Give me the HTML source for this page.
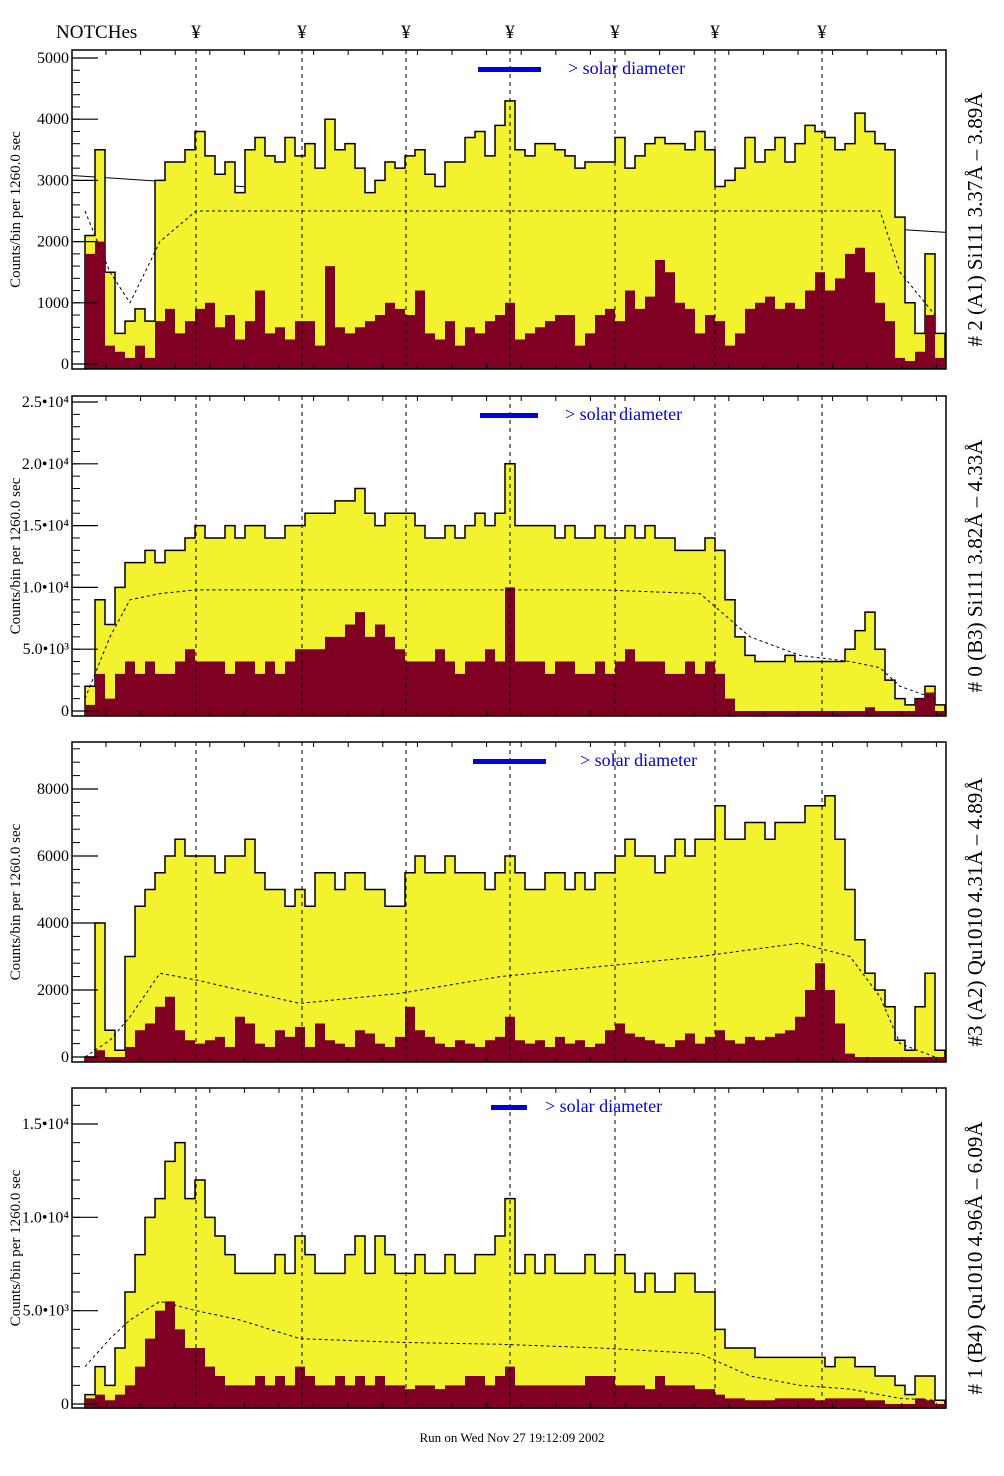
<!DOCTYPE html>
<html><head><meta charset="utf-8"><style>
body{margin:0;background:#fff;}
svg{display:block;font-family:"Liberation Serif",serif;}
</style></head><body>
<svg id="chart" width="1004" height="1476" xmlns="http://www.w3.org/2000/svg"></svg>
<script>
const binStarts=[85,95,105,115,125,135,145,155,165,175,185,195,205,215,225,235,245,255,265,275,285,295,305,315,325,335,345,355,365,375,385,395,405,415,425,435,445,455,465,475,485,495,505,515,525,535,545,555,565,575,585,595,605,615,625,635,645,655,665,675,685,695,705,715,725,735,745,755,765,775,785,795,805,815,825,835,845,855,865,875,885,895,905,915,925,935];
const p1Yellow=[2100,3500,1500,500,700,900,700,3000,3300,3300,3500,3800,3400,3100,3300,2800,3500,3700,3400,3300,3700,3400,3600,3200,4000,3500,3600,3200,2800,3000,3300,3200,3400,3500,3100,2900,3300,3300,3700,3800,3400,3900,4300,3500,3400,3600,3600,3500,3400,3200,3300,3300,3300,3700,3200,3400,3600,3700,3600,3600,3500,3800,3500,2900,3000,3200,3700,3300,3500,3700,3300,3600,3900,3800,3700,3500,3600,4100,3800,3600,3500,2400,1000,500,1800,500];
const p1Dark=[1800,2000,300,200,100,300,100,700,900,500,700,900,1000,600,800,400,700,1200,500,600,400,700,700,300,1600,600,500,600,700,800,1000,900,800,1200,500,400,700,300,600,500,700,800,1000,400,500,600,700,800,800,300,500,800,900,700,1200,900,1100,1700,1500,1000,900,500,800,700,300,500,900,1000,1100,900,1000,900,1200,1500,1200,1400,1800,1900,1500,1000,700,100,50,200,800,100];
const p2Yellow=[2,9,7,10,12,12,13,12,13,13,14,15,14,14,15,14,15,15,14,14,15,15,16,16,16,17,17,18,16,15,16,16,16,15,14,14,15,14,15,16,15,16,20,15,15,15,15,14,15,14,14,15,14,14,15,14,15,14,14,13,13,13,14,13,9,6,4.5,4,4,4,4.5,4,4,4,4,4,5,6.5,8,5,2.5,1,0.5,1,2,0.5];
const p2Dark=[0.5,3,1,3,4,3,4,3,3,4,5,4,4,4,3,4,4,3,4,3,4,5,5,5,6,6,7,8,6,7,6,5,4,4,4,5,4,3,4,4,5,4,10,4,4,4,3,4,4,3,3,4,3,4,5,4,4,4,3,3,4,3,4,3,1,0,0,0,0,0,0,0,0,0,0,0,0,0,0.3,0,0,0,0,1,1.5,0];
const p3Yellow=[0,4000,800,200,3000,4500,5000,5500,6000,6500,6000,6000,6000,5500,6000,6000,6500,5500,5000,5000,4500,5000,4500,5500,5500,5000,5500,5500,5000,5000,4500,4500,5500,6000,5500,5500,6000,5500,5500,5500,5000,5500,6000,5500,5000,5000,5500,5500,5000,5500,5000,5500,5500,6000,6500,6000,6000,5500,6000,6500,6000,6500,6500,7500,6500,6500,7000,7000,6500,7000,7000,7000,7500,7500,7800,6500,5000,3500,2500,2000,1500,500,200,1500,2500,200];
const p3Dark=[0,200,0,0,300,800,1000,1500,1800,800,500,400,500,600,300,1200,1000,400,300,800,600,900,300,1000,500,400,300,800,700,400,300,600,1500,800,600,400,300,500,400,300,500,600,1200,500,400,500,300,600,400,500,300,400,800,1000,700,600,500,400,300,500,700,400,600,800,500,400,600,500,600,700,800,1200,2000,2800,2000,1000,100,0,0,0,0,0,0,0,0,0];
const p4Yellow=[0.5,2,1,3,6,8,10,11,13,14,11,12,10,9,8,7,7,7,7,8,7,9,8,7,7,7,8,9,7,9,8,7,7,8,7,7,8,7,7,8,8,9,11,7,8,7,8,7,7,7,8,7,7,8,7,6,7,6,6,7,7,6,6,4,3,3,3,2.5,2.5,2.5,2.5,2.5,2.5,2.5,2,2.5,2.5,2,2,1.5,1.5,1,0.5,1.5,1.5,0.2];
const p4Dark=[0.3,0.5,0.2,0.5,1,2,3.5,5,5.5,4,3,3,2,1.5,1,1,1,1.5,1,1.5,1,2,1.5,1,1,1.5,1,1.5,1,1.5,1,1,0.8,1,1,0.8,1,1,1.5,1.5,1,1.5,2,1,1,1,1,1,1,1,1.5,1.5,1.5,1,1,1,0.8,1.5,1,1,1,0.8,0.8,0.5,0.3,0.3,0.2,0.2,0.2,0.3,0.3,0.3,0.3,0.2,0.3,0.3,0.3,0.3,0.2,0.2,0,0,0,0.3,0.2,0];
const curveX=[85,110,130,160,196,240,300,400,500,600,700,750,800,850,880,900,935];
const p1Curve=[2500,1500,1000,2000,2500,2500,2500,2500,2500,2500,2500,2500,2500,2500,2500,1500,800];
const p2Curve=[1,6,9,9.5,9.8,9.8,9.8,9.8,9.8,9.8,9.5,6,4.5,4,3.5,2,1];
const p3Curve=[0,500,1200,2500,2300,2000,1600,1900,2400,2700,3000,3200,3400,3000,1800,400,0];
const p4Curve=[2,3.5,4.5,5.5,5,4.5,3.5,3.3,3.2,3,2.7,1.5,1,0.8,0.5,0.3,0.2];
const p1FitX=[72,946];
const p1Fit=[3080,2150];
const notchX=[196,302,406,510,615,715,822];

const NS="http://www.w3.org/2000/svg";
const svg=document.getElementById('chart');
function mk(tag,attrs,parent){const e=document.createElementNS(NS,tag);for(const k in attrs)e.setAttribute(k,attrs[k]);(parent||svg).appendChild(e);return e;}
const L=72,R=946,BW=10;
const panels=[
 {top:50,bot:369,zero:364,refV:5000,refY:58,y:p1Yellow,d:p1Dark,c:p1Curve,ticks:[0,1000,2000,3000,4000,5000],labs:['0','1000','2000','3000','4000','5000'],title:'# 2 (A1) Si111  3.37Å – 3.89Å',bar:[478,541],bx:568,minor:200,fit:true},
 {top:396,bot:716,zero:711,refV:25,refY:402,y:p2Yellow,d:p2Dark,c:p2Curve,ticks:[0,5,10,15,20,25],labs:['0','5.0•10³','1.0•10⁴','1.5•10⁴','2.0•10⁴','2.5•10⁴'],title:'# 0 (B3) Si111  3.82Å – 4.33Å',bar:[480,538],bx:565,minor:1},
 {top:742,bot:1062,zero:1057,refV:8000,refY:789,y:p3Yellow,d:p3Dark,c:p3Curve,ticks:[0,2000,4000,6000,8000],labs:['0','2000','4000','6000','8000'],title:'#3 (A2) Qu1010  4.31Å – 4.89Å',bar:[473,546],bx:580,minor:400},
 {top:1088,bot:1408,zero:1404,refV:15,refY:1124,y:p4Yellow,d:p4Dark,c:p4Curve,ticks:[0,5,10,15],labs:['0','5.0•10³','1.0•10⁴','1.5•10⁴'],title:'# 1 (B4) Qu1010 4.96Å – 6.09Å',bar:[491,527],bx:545,minor:1}
];
panels.forEach((p,pi)=>{
 const g=mk('g',{});
 
 
 const ys=v=>Math.max(p.top,p.zero-(p.zero-p.refY)*v/p.refV);
 function stepPath(arr){let s='M'+binStarts[0]+','+(p.zero+4);arr.forEach((v,i)=>{const x=binStarts[i];s+=' L'+x+','+ys(v)+' L'+(x+BW)+','+ys(v);});s+=' L'+(binStarts[binStarts.length-1]+BW)+','+(p.zero+4)+' Z';return s;}
 if(p.fit){
  const fl=mk('line',{x1:p1FitX[0],y1:ys(p1Fit[0]),x2:p1FitX[1],y2:ys(p1Fit[1]),stroke:'#000','stroke-width':1},g);
  
  
 }
 const yl=mk('path',{d:stepPath(p.y),fill:'#f2f22e',stroke:'#000','stroke-width':1.5},g);
 
 
 const dk=mk('path',{d:stepPath(p.d),fill:'#7f0022',stroke:'none'},g);
 
 
 let cs='';p.c.forEach((v,i)=>{cs+=(i?' L':'M')+curveX[i]+','+ys(v);});
 const cv=mk('path',{d:cs,fill:'none',stroke:'#000','stroke-width':1,'stroke-dasharray':'3,3'},g);
 
 
 notchX.forEach(x=>{const l=mk('line',{x1:x,x2:x,y1:p.top,y2:p.bot,stroke:'#000','stroke-dasharray':'4,4','stroke-width':1},g);
  
  });
 const fr=mk('rect',{x:L,y:p.top,width:R-L,height:p.bot-p.top,fill:'none',stroke:'#000','stroke-width':1.5},g);
 
 
 const maxV=p.refV*(p.zero-p.top)/(p.zero-p.refY);
 for(let v=0;v<=maxV;v+=p.minor){const y=ys(v);mk('line',{x1:L,x2:L+8,y1:y,y2:y,stroke:'#000'},g);}
 p.ticks.forEach((v,i)=>{const y=ys(v);mk('line',{x1:L,x2:L+26,y1:y,y2:y,stroke:'#000','stroke-width':1.2},g);
  const t=mk('text',{x:L-3,y:y+5,'text-anchor':'end','font-size':16},g);t.textContent=p.labs[i];
  
  });
 for(let x=L+34;x<R;x+=34.6){mk('line',{x1:x,x2:x,y1:p.top,y2:p.top+5,stroke:'#000'},g);mk('line',{x1:x,x2:x,y1:p.bot,y2:p.bot-5,stroke:'#000'},g);}
 const yt=mk('text',{transform:'translate(20,'+((p.top+p.bot)/2)+') rotate(-90)','text-anchor':'middle','font-size':15},g);
 yt.textContent='Counts/bin per   1260.0 sec';
 
 
 const rt=mk('text',{transform:'translate(982,'+((p.top+p.bot)/2+10)+') rotate(-90)','text-anchor':'middle','font-size':21},g);
 rt.textContent=p.title;
 
 
 const br=mk('rect',{x:p.bar[0],y:p.top+17,width:p.bar[1]-p.bar[0],height:5,fill:'#0000e0'},g);
 
 
 const st=mk('text',{x:p.bx,y:p.top+24,'font-size':18,fill:'#0000e0'},g);
 st.textContent='> solar diameter';
 
 
});
const nt=mk('text',{x:56,y:38,'font-size':19});nt.textContent='NOTCHes';


notchX.forEach(x=>{const t=mk('text',{x:x,y:38,'font-size':19,'text-anchor':'middle'});t.textContent='¥';
 
 });
const ft=mk('text',{x:512,y:1442,'font-size':13,'text-anchor':'middle'});ft.textContent='Run on Wed Nov 27 19:12:09 2002';


</script>
</body></html>
